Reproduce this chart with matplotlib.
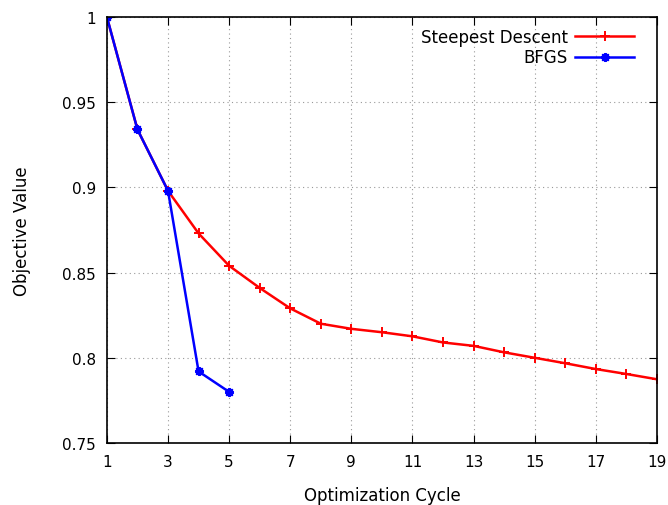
import matplotlib
matplotlib.use("Agg")
import matplotlib.pyplot as plt

# Werte
cycles_sd = list(range(1, 20))
obj_sd = [1.0, 0.934, 0.898, 0.873, 0.854, 0.841, 0.829, 0.820, 0.817, 0.815,
          0.8126, 0.809, 0.807, 0.8032, 0.800, 0.7968, 0.7934, 0.7905, 0.7874]
cycles_bfgs = [1, 2, 3, 4, 5]
obj_bfgs = [1.0, 0.934, 0.898, 0.792, 0.780]
xticks = [1, 3, 5, 7, 9, 11, 13, 15, 17, 19]
yticks = [0.75, 0.8, 0.85, 0.9, 0.95, 1.0]
ytick_labels = ["0.75", "0.8", "0.85", "0.9", "0.95", "1"]

plt.rcParams['font.family'] = ['DejaVu Sans']
fig = plt.figure(figsize=(6.68, 5.06), dpi=100)
ax = fig.add_axes([0.160, 0.1225, 0.8235, 0.842])

ax.plot(cycles_sd, obj_sd, color="red", lw=1.8, marker="+", ms=6.5, mew=1.4,
        label="Steepest Descent")
ax.plot(cycles_bfgs, obj_bfgs, color="blue", lw=1.8, marker=(8, 2, 0), ms=6.5, mew=1.4,
        label="BFGS")

ax.set_xlim(1, 19)
ax.set_ylim(0.75, 1.0)
ax.set_xticks(xticks)
ax.set_yticks(yticks)
ax.set_yticklabels(ytick_labels)
ax.tick_params(direction="in", top=True, right=True, labelsize=11, length=6, pad=8)
ax.grid(True, linestyle=(0, (1, 3)), color="#999999", lw=0.8)
for s in ax.spines.values():
    s.set_linewidth(1.2)

ax.set_xlabel("Optimization Cycle", fontsize=12, labelpad=12)
ax.set_ylabel("Objective Value", fontsize=12, labelpad=22)

leg = ax.legend(loc="upper right", frameon=False, markerfirst=False, fontsize=12,
                handlelength=3.5, handletextpad=0.45, borderaxespad=0.0,
                labelspacing=0.15, bbox_to_anchor=(0.97, 0.99))

fig.savefig("out.png", dpi=100)
